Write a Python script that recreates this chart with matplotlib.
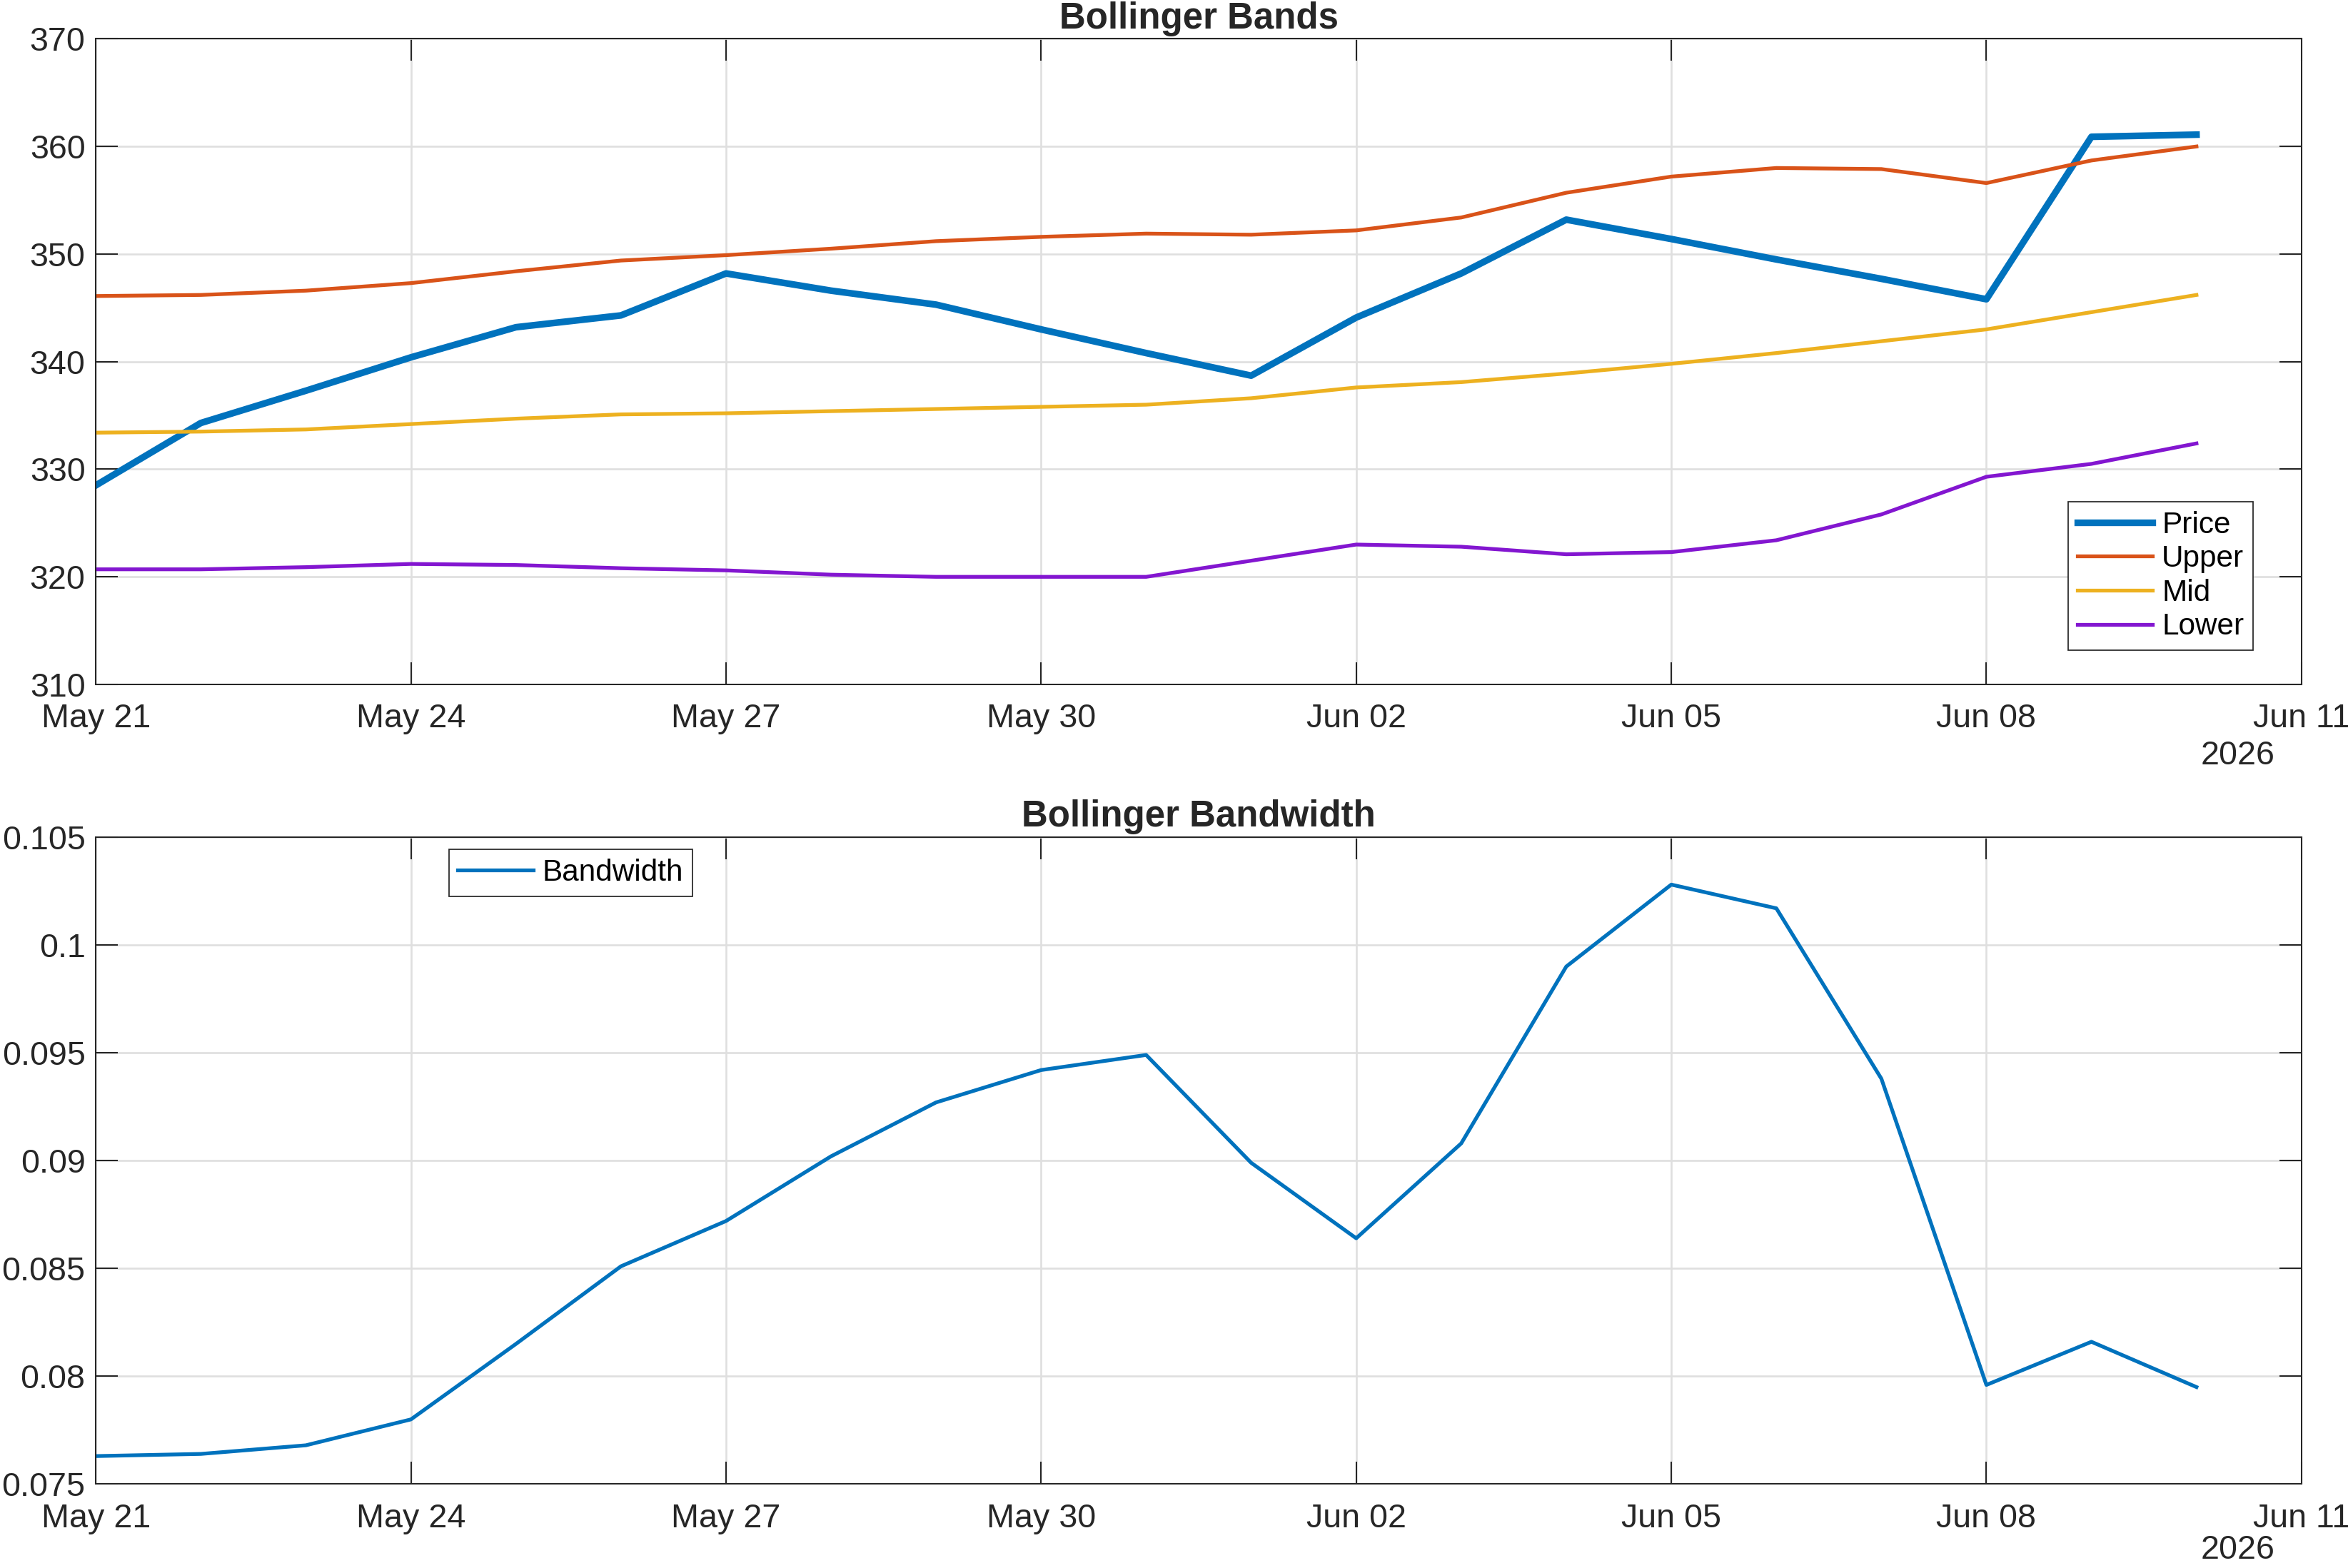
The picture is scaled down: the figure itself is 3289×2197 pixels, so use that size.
import numpy as np
import pandas as pd
import matplotlib
matplotlib.use("Agg")
import matplotlib.pyplot as plt
import matplotlib.dates as mdates
from matplotlib.ticker import FuncFormatter

# daily dates of the series
dates = pd.date_range("2026-05-21", "2026-06-10", freq="D")

price = [328.5, 334.3, 337.3, 340.4, 343.2, 344.3, 348.2, 346.6, 345.3, 343.0,
         340.8, 338.7, 344.1, 348.2, 353.2, 351.4, 349.5, 347.7, 345.8, 360.9, 361.1]
upper = [346.1, 346.2, 346.6, 347.3, 348.4, 349.4, 349.9, 350.5, 351.2, 351.6,
         351.9, 351.8, 352.2, 353.4, 355.7, 357.2, 358.0, 357.9, 356.6, 358.7, 360.0]
mid = [333.4, 333.5, 333.7, 334.2, 334.7, 335.1, 335.2, 335.4, 335.6, 335.8,
       336.0, 336.6, 337.6, 338.1, 338.9, 339.8, 340.8, 341.9, 343.0, 344.6, 346.2]
lower = [320.7, 320.7, 320.9, 321.2, 321.1, 320.8, 320.6, 320.2, 320.0, 320.0,
         320.0, 321.5, 323.0, 322.8, 322.1, 322.3, 323.4, 325.8, 329.3, 330.5, 332.4]
bandwidth = [0.0763, 0.0764, 0.0768, 0.0780, 0.0815, 0.0851, 0.0872, 0.0902, 0.0927, 0.0942,
             0.0949, 0.0899, 0.0864, 0.0908, 0.0990, 0.1028, 0.1017, 0.0938, 0.0796, 0.0816, 0.0795]

plt.rcParams["font.family"] = ["Liberation Sans", "DejaVu Sans"]
text_col = "#262626"

fig = plt.figure(figsize=(3289 / 210, 2197 / 210), dpi=210)
ax1 = fig.add_axes([0.0408, 0.5635, 0.9394, 0.4117])
ax2 = fig.add_axes([0.0408, 0.0535, 0.9394, 0.4126])

x_start = pd.Timestamp("2026-05-21")
x_end = pd.Timestamp("2026-06-11")
xticks = pd.date_range(x_start, x_end, freq="3D")


def style_axes(ax, year_y):
    ax.set_xlim(x_start, x_end)
    ax.set_xticks(xticks)
    ax.xaxis.set_major_formatter(mdates.DateFormatter("%b %d"))
    ax.grid(True, color="#dfdfdf", linewidth=0.9)
    ax.set_axisbelow(True)
    ax.tick_params(direction="in", length=10.5, width=0.7, colors=text_col,
                   labelsize=16, top=True, right=True)
    ax.tick_params(axis="x", pad=9)
    ax.tick_params(axis="y", pad=5)
    for s in ax.spines.values():
        s.set_color(text_col)
        s.set_linewidth(0.7)
    # year label under the last tick, like MATLAB's datetime axis
    ax.text(0.9711, year_y, "2026", transform=ax.transAxes, ha="center", va="center",
            fontsize=16, color=text_col)


# Top: Bollinger bands
ax1.plot(dates, price, color="#0072BD", linewidth=3.2, label="Price")
ax1.plot(dates, upper, color="#D95319", linewidth=1.8, label="Upper")
ax1.plot(dates, mid, color="#EDB120", linewidth=1.8, label="Mid")
ax1.plot(dates, lower, color="#8316D0", linewidth=1.8, label="Lower")
ax1.set_ylim(310, 370)
ax1.set_yticks(np.arange(310, 371, 10))
style_axes(ax1, -0.111)
ax1.set_title("Bollinger Bands", fontsize=17.5, fontweight="bold", color=text_col, pad=5)
leg1 = ax1.legend(loc="lower right", bbox_to_anchor=(0.978, 0.053), borderaxespad=0,
                  fontsize=14.5, fancybox=False, framealpha=1, edgecolor=text_col,
                  handlelength=2.5, handletextpad=0.3, labelspacing=0.18,
                  borderpad=0.3)
leg1.get_frame().set_linewidth(0.6)

# Bottom: bandwidth
ax2.plot(dates, bandwidth, color="#0072BD", linewidth=1.8, label="Bandwidth")
ax2.set_ylim(0.075, 0.105)
ax2.set_yticks(np.arange(0.075, 0.1051, 0.005))
ax2.yaxis.set_major_formatter(FuncFormatter(lambda v, p: f"{v:g}"))
style_axes(ax2, -0.102)
ax2.set_title("Bollinger Bandwidth", fontsize=17.5, fontweight="bold", color=text_col, pad=5)
leg2 = ax2.legend(loc="upper left", bbox_to_anchor=(0.160, 0.981), borderaxespad=0,
                  fontsize=14.5, fancybox=False, framealpha=1, edgecolor=text_col,
                  handlelength=2.5, handletextpad=0.3, borderpad=0.3)
leg2.get_frame().set_linewidth(0.6)

fig.savefig("out.png", dpi=210, facecolor="white")
